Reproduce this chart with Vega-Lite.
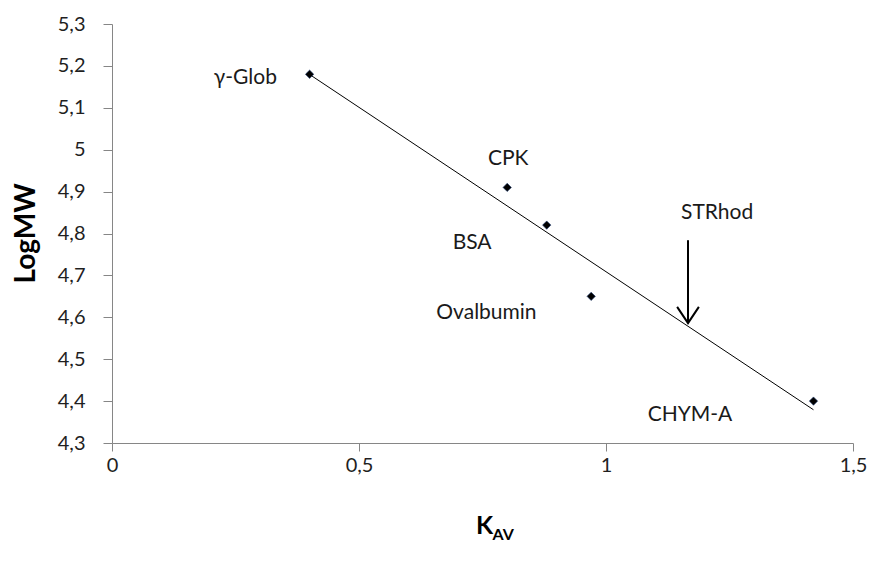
{
  "$schema": "https://vega.github.io/schema/vega-lite/v6.json",
  "width": 741,
  "height": 419,
  "autosize": {"type": "none"},
  "padding": {"left": 112, "top": 24, "right": 19, "bottom": 120},
  "background": "white",
  "config": {
    "view": {"stroke": null},
    "font": "Lato",
    "axis": {"grid": false}
  },
  "datasets": {
    "proteins": [
      {"protein": "γ-Glob", "kav": 0.40, "logmw": 5.18},
      {"protein": "CPK", "kav": 0.80, "logmw": 4.91},
      {"protein": "BSA", "kav": 0.88, "logmw": 4.82},
      {"protein": "Ovalbumin", "kav": 0.97, "logmw": 4.65},
      {"protein": "CHYM-A", "kav": 1.42, "logmw": 4.40}
    ],
    "labels": [
      {"text": "γ-Glob", "kav": 0.27, "logmw": 5.171},
      {"text": "CPK", "kav": 0.802, "logmw": 4.978},
      {"text": "BSA", "kav": 0.729, "logmw": 4.777},
      {"text": "Ovalbumin", "kav": 0.758, "logmw": 4.610},
      {"text": "CHYM-A", "kav": 1.17, "logmw": 4.367},
      {"text": "STRhod", "kav": 1.225, "logmw": 4.849}
    ],
    "arrow": [
      {"part": "shaft", "step": 1, "kav": 1.166, "logmw": 4.784},
      {"part": "shaft", "step": 2, "kav": 1.166, "logmw": 4.586},
      {"part": "head", "step": 1, "kav": 1.144, "logmw": 4.625},
      {"part": "head", "step": 2, "kav": 1.166, "logmw": 4.586},
      {"part": "head", "step": 3, "kav": 1.188, "logmw": 4.625}
    ]
  },
  "layer": [
    {
      "data": {"name": "proteins"},
      "transform": [{"regression": "logmw", "on": "kav"}],
      "mark": {"type": "line", "color": "#000000", "strokeWidth": 1},
      "encoding": {
        "x": {"field": "kav", "type": "quantitative", "axis": null},
        "y": {"field": "logmw", "type": "quantitative"}
      }
    },
    {
      "data": {"name": "proteins"},
      "mark": {"type": "point", "shape": "diamond", "filled": true, "size": 70, "color": "#000000", "stroke": "#1f3a6e", "strokeWidth": 0.6, "opacity": 1},
      "encoding": {
        "x": {
          "field": "kav", "type": "quantitative",
          "scale": {"domain": [0, 1.5], "nice": false, "zero": false},
          "axis": {
            "values": [0, 0.5, 1, 1.5],
            "labelExpr": "replace(format(datum.value, '.1~f'), '.', ',')",
            "labelFont": "Lato", "labelFontSize": 20, "labelColor": "#1f1f1f",
            "labelPadding": 4, "labelFlush": false,
            "domainColor": "#868686", "tickColor": "#868686", "tickSize": 8,
            "title": "K", "titleFont": "Lato", "titleFontSize": 25, "titleFontWeight": "bold",
            "titleColor": "#000000", "titleX": 372, "titleY": 90,
            "titleAlign": "center", "titleBaseline": "alphabetic"
          }
        },
        "y": {
          "field": "logmw", "type": "quantitative",
          "scale": {"domain": [4.3, 5.3], "nice": false, "zero": false},
          "axis": {
            "values": [4.3, 4.4, 4.5, 4.6, 4.7, 4.8, 4.9, 5.0, 5.1, 5.2, 5.3],
            "labelExpr": "replace(format(datum.value, '.1~f'), '.', ',')",
            "labelFont": "Lato", "labelFontSize": 20, "labelColor": "#1f1f1f",
            "labelPadding": 18,
            "domainColor": "#868686", "tickColor": "#868686", "tickSize": 9,
            "title": "LogMW", "titleFont": "Lato", "titleFontSize": 28, "titleFontWeight": "bold",
            "titleColor": "#000000", "titleX": -78, "titleY": 209,
            "titleAlign": "center", "titleBaseline": "alphabetic", "titleAngle": -90
          }
        }
      }
    },
    {
      "data": {"name": "labels"},
      "mark": {"type": "text", "font": "Lato", "fontSize": 21, "color": "#1a1a1a", "align": "center", "baseline": "middle"},
      "encoding": {
        "x": {
          "field": "kav", "type": "quantitative",
          "axis": {
            "orient": "top",
            "domain": false, "ticks": false, "labels": false,
            "title": "AV", "titleFont": "Lato", "titleFontSize": 16, "titleFontWeight": "bold",
            "titleColor": "#000000", "titleX": 380, "titleY": 515,
            "titleAlign": "left", "titleBaseline": "alphabetic"
          }
        },
        "y": {"field": "logmw", "type": "quantitative"},
        "text": {"field": "text"}
      }
    },
    {
      "data": {"name": "arrow"},
      "mark": {"type": "line", "color": "#000000", "strokeWidth": 2},
      "encoding": {
        "x": {"field": "kav", "type": "quantitative", "axis": null},
        "y": {"field": "logmw", "type": "quantitative"},
        "detail": {"field": "part"},
        "order": {"field": "step"}
      }
    }
  ],
  "resolve": {"axis": {"x": "independent"}}
}
